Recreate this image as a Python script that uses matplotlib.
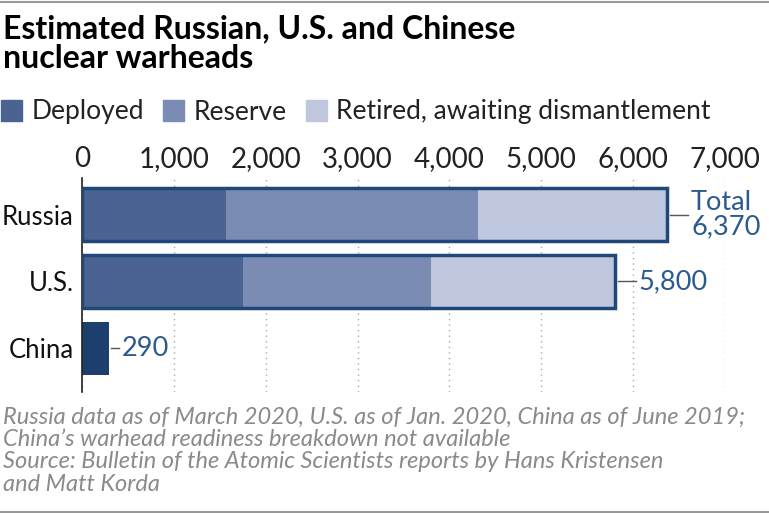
import numpy as np
import matplotlib.pyplot as plt
from matplotlib.patches import Rectangle
from matplotlib.lines import Line2D

# Datos
countries = ['Russia', 'U.S.', 'China']
deployed = [1570, 1750, 0]
reserve = [2740, 2050, 0]
retired = [2060, 2000, 0]
china_total = [0, 0, 290]
totals = [6370, 5800, 290]
total_labels = ['Total\n6,370', '5,800', '290']
segment_names = ['Deployed', 'Reserve', 'Retired, awaiting dismantlement']
xticks = [0, 1000, 2000, 3000, 4000, 5000, 6000, 7000]

c_dep = '#4a6390'
c_res = '#7a8cb4'
c_ret = '#bec7dd'
c_edge = '#1f4878'
c_china = '#1c3f6e'
c_label = '#2b5a8e'

plt.rcParams['font.family'] = ['Lato', 'DejaVu Sans']

fig = plt.figure(figsize=(7.69, 5.14), dpi=100)
ax = fig.add_axes([82 / 769, 1 - 392 / 514, (725 - 82) / 769, (392 - 178) / 514])

y = np.arange(len(countries))
h = 0.79
left = np.zeros(len(countries))
for vals, col in zip([deployed, reserve, retired], [c_dep, c_res, c_ret]):
    ax.barh(y, vals, left=left, height=h, color=col, zorder=2)
    left = left + np.array(vals)
ax.barh(y, china_total, height=h, color=c_china, zorder=2)

# contorno de total
for i in range(2):
    ax.add_patch(Rectangle((0, y[i] - h / 2), totals[i], h, fill=False,
                           edgecolor=c_edge, lw=2.5, zorder=3))

# etiquetas con línea
for i, (t, lab) in enumerate(zip(totals, total_labels)):
    x0 = t + 30
    x1 = t + (230 if i < 2 else 110)
    ax.plot([x0, x1], [y[i], y[i]], color='#555555', lw=1, zorder=3, clip_on=False)
    ax.text(x1 + 30, y[i], lab, color=c_label, fontsize=19.5, va='center',
            ha='left', linespacing=0.95)

ax.set_xlim(0, 7000)
ax.set_ylim(2.65, -0.545)
ax.set_xticks(xticks)
ax.set_xticklabels([f'{v:,}' for v in xticks], fontsize=20, color='#222222')
ax.xaxis.tick_top()
ax.tick_params(axis='x', length=0, pad=4)
ax.set_yticks(y)
ax.set_yticklabels(countries, fontsize=18.5, color='#111111')
ax.tick_params(axis='y', length=0, pad=6)
ax.grid(axis='x', color='#aaaaaa', linestyle=(0, (1, 3)), lw=1, zorder=0)
for s in ['top', 'right', 'bottom']:
    ax.spines[s].set_visible(False)
ax.spines['left'].set_color('#222222')
ax.spines['left'].set_linewidth(1.2)

# título
fig.text(3 / 769, 1 - 14 / 514, 'Estimated Russian, U.S. and Chinese\nnuclear warheads',
         fontsize=23, fontweight='bold', va='top', ha='left', linespacing=1.05)

# leyenda
handles = [Rectangle((0, 0), 1, 1, color=c) for c in [c_dep, c_res, c_ret]]
leg = fig.legend(handles, segment_names, loc='center left',
                 bbox_to_anchor=(-0.012, 1 - 112 / 514),
                 ncol=3, frameon=False, handlelength=0.78, handleheight=0.82,
                 handletextpad=0.35, columnspacing=0.75, borderaxespad=0,
                 prop={'size': 19})
for txt in leg.get_texts():
    txt.set_color('#222222')

# notas
fig.text(3 / 769, 1 - 407 / 514,
         'Russia data as of March 2020, U.S. as of Jan. 2020, China as of June 2019;\n'
         "China’s warhead readiness breakdown not available\n"
         'Source: Bulletin of the Atomic Scientists reports by Hans Kristensen\n'
         'and Matt Korda',
         fontsize=17, style='italic', color='#8a8a8a',
         va='top', ha='left', linespacing=1.07)

# líneas superior e inferior
fig.add_artist(Line2D([0, 1], [1 - 2 / 514, 1 - 2 / 514], color='#999999', lw=1.5))
fig.add_artist(Line2D([0, 1], [1 - 512 / 514, 1 - 512 / 514], color='#999999', lw=1.5))

fig.savefig('out.png', dpi=100)
